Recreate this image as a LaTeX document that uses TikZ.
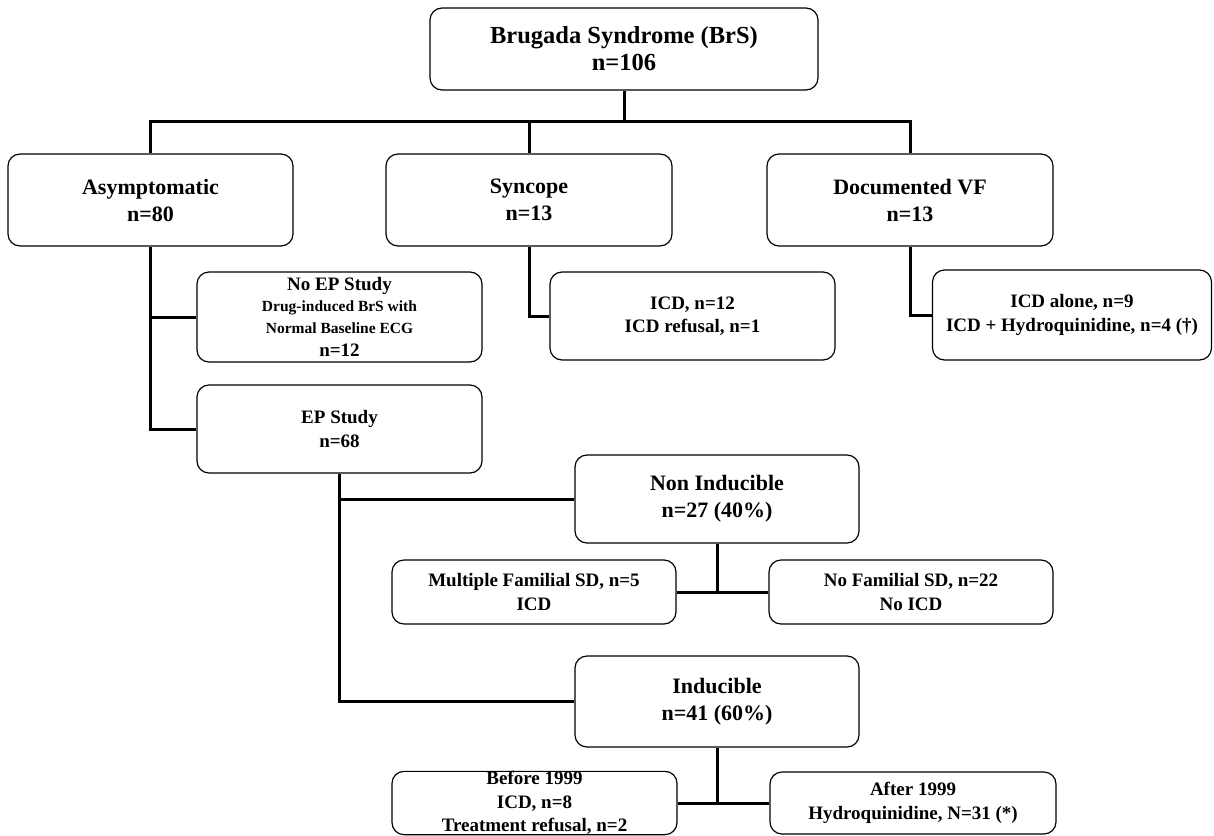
\documentclass[tikz,border=0pt]{standalone}
\usepackage{fontspec}
\setmainfont{Liberation Serif}
\usetikzlibrary{calc}

\tikzset{
	box/.style={draw=black, line width=1.2pt, rounded corners=12pt, align=center, inner sep=0pt},
	conn/.style={line width=3pt},
	toptxt/.style={font=\fontsize{24.5}{27}\selectfont\bfseries},
	lvltxt/.style={font=\fontsize{22}{27}\selectfont\bfseries},
	subtxt/.style={font=\fontsize{19}{23.5}\selectfont\bfseries}
}

\begin{document}
\begin{tikzpicture}[x=1pt,y=-1pt]

	%page frame
	\useasboundingbox[fill=white] (0,0) rectangle (1214,835);

	%first row
	\node[box,toptxt,minimum width=388pt,minimum height=82pt] (brs) at (624,49) {Brugada Syndrome (BrS)\\n=106};
	\node[box,lvltxt,minimum width=285pt,minimum height=92pt] (asym) at (150.5,200) {Asymptomatic\\n=80};
	\node[box,lvltxt,minimum width=286pt,minimum height=92pt] (sync) at (529,200) {Syncope\\n=13};
	\node[box,lvltxt,minimum width=286pt,minimum height=92pt] (vf) at (910,200) {Documented VF\\n=13};

	%second row
	\node[box,subtxt,minimum width=285pt,minimum height=90pt] (noep) at (339.5,317)
		{No EP Study\\[-2pt]{\fontsize{15.5}{18}\selectfont Drug-induced BrS with}\\[-2pt]{\fontsize{15.5}{18}\selectfont Normal Baseline ECG}\\n=12};
	\node[box,subtxt,minimum width=285pt,minimum height=88pt] (ep) at (339.5,429) {EP Study\\n=68};
	\node[box,subtxt,minimum width=285pt,minimum height=88pt] (icd) at (692.5,316) {ICD, n=12\\ICD refusal, n=1};
	\node[box,subtxt,minimum width=279pt,minimum height=90pt] (icdhq) at (1072,315) {ICD alone, n=9\\ICD + Hydroquinidine, n=4 (†)};

	%EP study outcome
	\node[box,lvltxt,minimum width=284pt,minimum height=88pt] (nonind) at (717,499) {Non Inducible\\n=27 (40\%)};
	\node[box,subtxt,minimum width=284pt,minimum height=64pt] (multi) at (534,592) {Multiple Familial SD, n=5\\ICD};
	\node[box,subtxt,minimum width=284pt,minimum height=64pt] (nofam) at (911,592) {No Familial SD, n=22\\No ICD};
	\node[box,lvltxt,minimum width=284pt,minimum height=91pt] (ind) at (717,701.5) {Inducible\\n=41 (60\%)};
	\node[box,subtxt,minimum width=285pt,minimum height=62pt] (before) at (534.5,803) {Before 1999\\ICD, n=8\\Treatment refusal, n=2};
	\node[box,subtxt,minimum width=286pt,minimum height=62pt] (after) at (913,803) {After 1999\\Hydroquinidine, N=31 (*)};

	%connectors from the top box
	\coordinate (split) at (624,121);
	\draw[conn] (brs.south) -- (split);
	\draw[conn] (asym.north) -- (asym.north |- split) -- (vf.north |- split) -- (vf.north);
	\draw[conn] (sync.north) -- (sync.north |- split);

	%asymptomatic branch
	\draw[conn] (asym.south) |- (ep.west);
	\draw[conn] (asym.south |- noep.west) -- (noep.west);

	%syncope and VF branches
	\draw[conn] (sync.south) |- (icd.west);
	\draw[conn] (vf.south) |- (icdhq.west);

	%EP study branch
	\draw[conn] (ep.south) |- (ind.west);
	\draw[conn] (ep.south |- nonind.west) -- (nonind.west);

	%non inducible and inducible splits
	\draw[conn] (multi.east) -- (nofam.west);
	\draw[conn] (nonind.south) -- (nonind.south |- multi.east);
	\draw[conn] (before.east) -- (after.west);
	\draw[conn] (ind.south) -- (ind.south |- before.east);

\end{tikzpicture}
\end{document}
